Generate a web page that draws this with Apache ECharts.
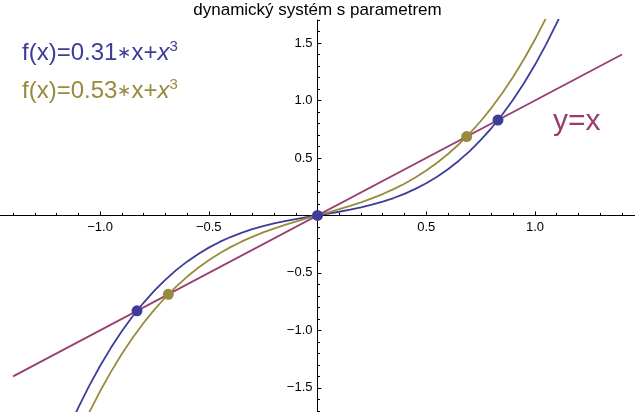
<!DOCTYPE html>
<html>
<head>
<meta charset="utf-8">
<script src="https://cdn.jsdelivr.net/npm/echarts@6/dist/echarts.min.js"></script>
<style>
  html, body { margin: 0; padding: 0; background: #ffffff; }
  #chart { width: 635px; height: 412px; }
</style>
</head>
<body>
<div id="chart"></div>
<script>
// ---- data ----
const titleText = 'dynamický systém s parametrem';
const xRange = [-1.46, 1.46];
const yRange = [-1.71, 1.70];
const xs = [-1.15, -1.1, -1.05, -1.0, -0.95, -0.9, -0.85, -0.8, -0.75, -0.7, -0.65, -0.6, -0.55, -0.5, -0.45, -0.4, -0.35, -0.3, -0.25, -0.2, -0.15, -0.1, -0.05,
            0, 0.05, 0.1, 0.15, 0.2, 0.25, 0.3, 0.35, 0.4, 0.45, 0.5, 0.55, 0.6, 0.65, 0.7, 0.75, 0.8, 0.85, 0.9, 0.95, 1.0, 1.05, 1.1, 1.15];
// f(x)=0.31*x+x^3
const blueY = [-1.8774, -1.672, -1.4831, -1.31, -1.1519, -1.008, -0.8776, -0.76, -0.6544, -0.56, -0.4761, -0.402, -0.3369, -0.28, -0.2306, -0.188, -0.1514, -0.12, -0.0931, -0.07, -0.0499, -0.032, -0.0156,
               0, 0.0156, 0.032, 0.0499, 0.07, 0.0931, 0.12, 0.1514, 0.188, 0.2306, 0.28, 0.3369, 0.402, 0.4761, 0.56, 0.6544, 0.76, 0.8776, 1.008, 1.1519, 1.31, 1.4831, 1.672, 1.8774];
// f(x)=0.53*x+x^3
const oliveY = [-2.1304, -1.914, -1.7141, -1.53, -1.3609, -1.206, -1.0646, -0.936, -0.8194, -0.714, -0.6191, -0.534, -0.4579, -0.39, -0.3296, -0.276, -0.2284, -0.186, -0.1481, -0.114, -0.0829, -0.054, -0.0266,
                0, 0.0266, 0.054, 0.0829, 0.114, 0.1481, 0.186, 0.2284, 0.276, 0.3296, 0.39, 0.4579, 0.534, 0.6191, 0.714, 0.8194, 0.936, 1.0646, 1.206, 1.3609, 1.53, 1.7141, 1.914, 2.1304];
// y = x
const diagX = [-1.4, 1.4];
const diagY = [-1.4, 1.4];
// fixed points
const blueFixX = [-0.83, 0.83, 0];
const oliveFixX = [-0.686, 0.686];
const labelBlue = ['f(x)=0.31', '∗', 'x+', 'x', '3'];
const labelOlive = ['f(x)=0.53', '∗', 'x+', 'x', '3'];
const labelDiag = 'y=x';

// ---- styling / layout ----
const C_BLUE = '#3d3d99', C_OLIVE = '#998b3d', C_MAG = '#993d71';
const FONT = '"Liberation Sans", Arial, Helvetica, sans-serif';
const W = 635, H = 412, TOP = 20;

const chart = echarts.init(document.getElementById('chart'), null, { renderer: 'canvas' });

const pxPerX = W / (xRange[1] - xRange[0]);
const pxPerY = (H - TOP) / (yRange[1] - yRange[0]);
const x0 = -xRange[0] * pxPerX;
const y0 = TOP + yRange[1] * pxPerY;

const fmt = v => (Math.abs(v) < 1e-9 ? '' : (v < 0 ? '\u2212' : '') + Math.abs(v).toFixed(1));
const pairs = (a, b) => a.map((v, i) => [v, b[i]]);
const baseLabel = { color: '#000', fontSize: 13, fontFamily: FONT };
const BLACK = { color: '#000', width: 1 };

function richLabel(parts, color) {
  return {
    text: '{n|' + parts[0] + '}{a|' + parts[1] + '}{n|' + parts[2] + '}{i|' + parts[3] + '}{s|' + parts[4] + '}',
    fill: color,
    rich: {
      n: { fontSize: 24, fontFamily: FONT, fill: color, lineHeight: 28 },
      a: { fontSize: 17, fontFamily: FONT, fill: color, lineHeight: 28 },
      i: { fontSize: 24, fontFamily: FONT, fontStyle: 'italic', fill: color, lineHeight: 28 },
      s: { fontSize: 15, fontFamily: FONT, fill: color, lineHeight: 15, verticalAlign: 'top' }
    }
  };
}
const hiddenAxis = (gridIndex, min, max) => ({ type: 'value', gridIndex, min, max, show: false,
  axisLine: { onZero: false }, splitLine: { show: false } });

const option = {
  animation: false,
  backgroundColor: '#ffffff',
  title: {
    text: titleText, left: 'center', top: -3,
    textStyle: { fontSize: 17, fontWeight: 'normal', color: '#000', fontFamily: FONT }
  },
  grid: [
    // 0: plot area for the series
    { left: 0, top: TOP, width: W, height: H - TOP, outerBoundsMode: 'none', containLabel: false },
    // 1: horizontal axis, its bottom edge on y = 0
    { left: x0 - 1.5 * pxPerX, width: 3 * pxPerX, top: TOP, height: y0 - TOP, outerBoundsMode: 'none', containLabel: false },
    // 2: vertical axis major ticks + labels, left edge on x = 0
    { left: x0, width: 100, top: y0 - 2.0 * pxPerY, height: 4.0 * pxPerY, outerBoundsMode: 'none', containLabel: false },
    // 3: vertical axis line + minor ticks
    { left: x0, width: 100, top: y0 - 1.7 * pxPerY, height: 3.5 * pxPerY, outerBoundsMode: 'none', containLabel: false }
  ],
  xAxis: [
    hiddenAxis(0, xRange[0], xRange[1]),
    {
      type: 'value', gridIndex: 1, min: -1.5, max: 1.5, interval: 0.5, position: 'bottom',
      axisLine: { show: true, onZero: false, lineStyle: BLACK },
      axisTick: { inside: true, length: 4, lineStyle: BLACK },
      minorTick: { show: true, splitNumber: 5, length: 2.5, lineStyle: BLACK },
      splitLine: { show: false },
      axisLabel: Object.assign({ margin: 5, showMinLabel: false, showMaxLabel: false, formatter: fmt }, baseLabel)
    },
    hiddenAxis(2, 0, 1),
    hiddenAxis(3, 0, 1)
  ],
  yAxis: [
    hiddenAxis(0, yRange[0], yRange[1]),
    hiddenAxis(1, 0, 1),
    {
      type: 'value', gridIndex: 2, min: -2.0, max: 2.0, interval: 0.5, position: 'left',
      axisLine: { show: false, onZero: false },
      axisTick: { inside: true, length: 4, lineStyle: BLACK },
      axisLabel: Object.assign({ margin: 5, formatter: fmt }, baseLabel),
      splitLine: { show: false }
    },
    {
      type: 'value', gridIndex: 3, min: -1.8, max: 1.7, interval: 0.1, position: 'left',
      axisLine: { show: true, onZero: false, lineStyle: BLACK },
      axisTick: { inside: true, length: 2.5, lineStyle: BLACK },
      axisLabel: { show: false },
      splitLine: { show: false }
    }
  ],
  series: [
    { type: 'line', xAxisIndex: 0, yAxisIndex: 0, data: pairs(xs, blueY), showSymbol: false, symbol: 'none', clip: true,
      lineStyle: { color: C_BLUE, width: 1.8 }, z: 3 },
    { type: 'line', xAxisIndex: 0, yAxisIndex: 0, data: pairs(xs, oliveY), showSymbol: false, symbol: 'none', clip: true,
      lineStyle: { color: C_OLIVE, width: 1.8 }, z: 3 },
    { type: 'line', xAxisIndex: 0, yAxisIndex: 0, data: pairs(diagX, diagY), showSymbol: false, symbol: 'none', clip: true,
      lineStyle: { color: C_MAG, width: 1.8 }, z: 3 },
    { type: 'scatter', xAxisIndex: 0, yAxisIndex: 0, data: pairs(oliveFixX, oliveFixX), symbolSize: 11,
      itemStyle: { color: C_OLIVE, opacity: 1 }, z: 4 },
    { type: 'scatter', xAxisIndex: 0, yAxisIndex: 0, data: pairs(blueFixX, blueFixX), symbolSize: 11,
      itemStyle: { color: C_BLUE, opacity: 1 }, z: 5 }
  ],
  graphic: [
    { type: 'text', left: 22, top: 39, z: 10, style: richLabel(labelBlue, C_BLUE) },
    { type: 'text', left: 22, top: 77, z: 10, style: richLabel(labelOlive, C_OLIVE) },
    { type: 'text', left: 553, top: 107, z: 10,
      style: { text: labelDiag, fill: C_MAG, fontSize: 30, fontFamily: FONT } }
  ]
};
chart.setOption(option);
</script>
</body>
</html>
